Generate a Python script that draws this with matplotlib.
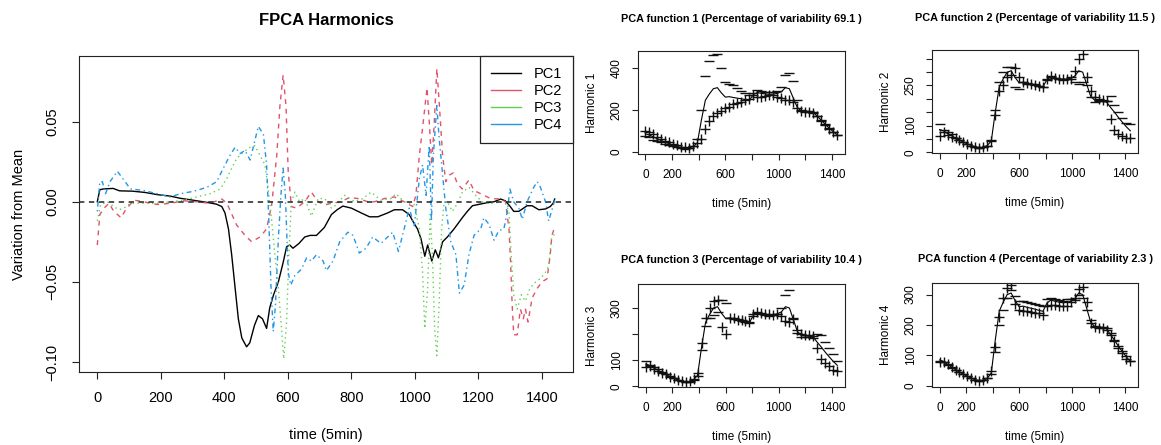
import matplotlib
matplotlib.use('Agg')
import matplotlib.pyplot as plt

plt.rcParams['font.family'] = ['Liberation Sans', 'DejaVu Sans']

# ---------------- left panel: the four harmonics ----------------
pc1_x = [0, 8, 20, 50, 70, 110, 150, 190, 230, 260, 300, 345, 375, 392, 402, 413, 423, 434,
         444, 455, 470, 480, 495, 507, 520, 533, 543, 555, 570, 585, 596, 606, 616, 635, 653,
         670, 690, 715, 737, 755, 773, 800, 831, 857, 883, 914, 935, 961, 982, 993, 1008, 1019,
         1031, 1040, 1053, 1064, 1074, 1087, 1102, 1123, 1149, 1165, 1181, 1217, 1249, 1270,
         1285, 1300, 1311, 1327, 1353, 1369, 1390, 1411, 1426, 1435, 1440]
pc1_y = [0.000, 0.0075, 0.008, 0.0083, 0.0068, 0.0066, 0.0058, 0.0044, 0.0035, 0.0022, 0.001,
         -0.0004, -0.0015, -0.003, -0.007, -0.017, -0.033, -0.054, -0.073, -0.085, -0.0905,
         -0.088, -0.077, -0.071, -0.073, -0.079, -0.066, -0.058, -0.050, -0.038, -0.028, -0.027,
         -0.029, -0.026, -0.022, -0.021, -0.021, -0.016, -0.008, -0.005, -0.0027, -0.004, -0.007,
         -0.0094, -0.0094, -0.007, -0.005, -0.005, -0.008, -0.012, -0.017, -0.023, -0.034, -0.027,
         -0.037, -0.030, -0.035, -0.025, -0.022, -0.017, -0.010, -0.006, -0.0025, -0.001, 0.000,
         0.0017, 0.0005, -0.003, -0.006, -0.006, -0.0025, -0.0025, -0.005, -0.0045, -0.003,
         -0.001, 0.0017]

pc2_x = [0, 8, 21, 37, 52, 75, 89, 115, 146, 188, 230, 272, 313, 355, 392, 408, 439, 465, 486,
         512, 533, 549, 565, 575, 585, 594, 601, 611, 627, 653, 674, 695, 716, 737, 768, 794, 820,
         852, 873, 904, 935, 966, 993, 1003, 1014, 1024, 1038, 1045, 1053, 1061, 1069, 1077, 1087,
         1097, 1108, 1121, 1134, 1149, 1170, 1186, 1207, 1238, 1270, 1285, 1296, 1301, 1306, 1311,
         1322, 1332, 1341, 1348, 1356, 1369, 1385, 1400, 1416, 1426, 1431, 1440]
pc2_y = [-0.027, -0.008, -0.004, -0.001, -0.006, -0.010, -0.005, 0.001, 0.000, -0.0017, -0.001,
         0.0006, 0.000, -0.001, 0.0017, -0.001, -0.0146, -0.021, -0.025, -0.022, -0.017, -0.002,
         0.029, 0.060, 0.079, 0.060, 0.019, -0.003, -0.004, 0.000, 0.006, 0.000, -0.002, -0.001,
         0.000, 0.0027, 0.002, 0.000, 0.000, 0.002, 0.003, 0.000, -0.003, 0.004, 0.029, 0.046,
         0.071, 0.050, 0.023, 0.050, 0.083, 0.060, 0.029, 0.0125, 0.0166, 0.018, 0.011, 0.008,
         0.0135, 0.007, 0.005, 0.002, 0.0017, 0.000, -0.017, -0.037, -0.064, -0.083, -0.083,
         -0.067, -0.073, -0.067, -0.075, -0.060, -0.054, -0.050, -0.048, -0.033, -0.021, -0.016]

pc3_x = [0, 10, 31, 52, 68, 84, 104, 146, 188, 230, 272, 313, 355, 387, 408, 423, 439, 460, 481,
         496, 512, 528, 538, 549, 559, 570, 580, 587, 596, 603, 611, 622, 637, 653, 674, 695, 716,
         737, 752, 778, 810, 836, 862, 893, 925, 940, 966, 987, 998, 1014, 1024, 1031, 1040, 1048,
         1055, 1062, 1069, 1076, 1084, 1092, 1102, 1118, 1134, 1149, 1170, 1191, 1217, 1244, 1270,
         1285, 1296, 1303, 1311, 1322, 1335, 1348, 1362, 1380, 1395, 1411, 1421, 1430, 1440]
pc3_y = [-0.012, -0.002, 0.000, -0.003, -0.005, -0.004, -0.001, -0.001, -0.001, 0.000, 0.001,
         0.003, 0.005, 0.008, 0.0146, 0.021, 0.027, 0.031, 0.034, 0.035, 0.029, 0.023, 0.008,
         -0.012, -0.033, -0.054, -0.079, -0.098, -0.075, -0.033, 0.000, 0.006, 0.000, 0.002,
         -0.009, 0.002, 0.002, -0.004, -0.002, 0.004, 0.000, 0.002, 0.006, 0.001, 0.002, 0.005,
         0.000, -0.001, -0.002, -0.017, -0.044, -0.079, -0.054, -0.008, -0.033, -0.079, -0.096,
         -0.064, -0.017, 0.000, 0.000, -0.006, -0.001, 0.006, 0.009, 0.004, -0.001, -0.001, 0.000,
         -0.001, -0.006, -0.033, -0.058, -0.067, -0.058, -0.062, -0.054, -0.050, -0.048, -0.044,
         -0.040, -0.023, -0.020]

pc4_x = [0, 8, 16, 26, 40, 63, 84, 104, 146, 188, 230, 261, 303, 345, 376, 397, 418, 434, 449,
         465, 481, 507, 523, 533, 540, 547, 554, 561, 570, 578, 585, 592, 601, 609, 622, 643, 659,
         674, 690, 711, 721, 742, 763, 789, 805, 825, 846, 867, 893, 914, 930, 948, 966, 982, 998,
         1014, 1024, 1035, 1045, 1052, 1058, 1069, 1076, 1087, 1097, 1113, 1129, 1140, 1155, 1170,
         1186, 1207, 1217, 1233, 1249, 1264, 1280, 1291, 1299, 1311, 1327, 1338, 1353, 1374, 1385,
         1395, 1411, 1421, 1430, 1440]
pc4_y = [-0.006, 0.0125, 0.0125, 0.005, 0.0125, 0.019, 0.0135, 0.008, 0.007, 0.005, 0.003,
         0.005, 0.0065, 0.009, 0.0125, 0.021, 0.029, 0.034, 0.030, 0.032, 0.026, 0.047, 0.042,
         0.023, -0.012, -0.054, -0.081, -0.064, -0.023, 0.004, 0.021, 0.004, -0.044, -0.052,
         -0.046, -0.042, -0.035, -0.037, -0.033, -0.037, -0.043, -0.037, -0.025, -0.019, -0.021,
         -0.032, -0.029, -0.022, -0.026, -0.022, -0.019, -0.031, -0.017, -0.004, -0.015, 0.0146,
         0.023, 0.004, 0.035, -0.012, 0.029, 0.060, 0.040, 0.017, -0.004, -0.025, -0.033, -0.057,
         -0.052, -0.033, -0.021, -0.017, -0.010, -0.014, -0.024, -0.018, -0.017, -0.006, 0.008,
         0.000, -0.004, -0.011, 0.000, 0.009, 0.0125, 0.009, 0.000, -0.012, -0.006, 0.001]

# ---------------- right panels: mean +/- harmonic ----------------
grid_x = list(range(0, 1441, 30))
mean_curve = [85, 80, 70, 62, 53, 45, 38, 31, 25, 20, 17, 18, 25, 42, 150, 245, 275, 300, 305,
              280, 260, 262, 258, 255, 252, 248, 245, 272, 282, 278, 275, 273, 274, 278, 285,
              305, 300, 255, 210, 195, 193, 192, 188, 168, 150, 130, 112, 95, 80]

plus1 = [97, 92, 82, 72, 62, 53, 45, 37, 30, 24, 20, 19, 25, 40, 60, 110, 148, 168, 182, 195,
         206, 215, 225, 232, 238, 245, 252, 268, 262, 262, 264, 268, 270, 262, 255, 248, 246,
         238, 208, 192, 190, 190, 186, 172, 152, 128, 110, 95, 80]
minus1 = [73, 68, 58, 52, 44, 37, 31, 25, 20, 16, 14, 17, 25, 60, 200, 360, 430, 460, 465, 400,
          330, 322, 318, 305, 290, 278, 270, 280, 292, 290, 286, 286, 284, 290, 310, 365, 375,
          335, 245, 200, 195, 194, 190, 168, 148, 130, 113, 95, 80]

plus2 = [60, 74, 64, 56, 53, 45, 37, 30, 25, 20, 17, 18, 24, 42, 140, 228, 253, 280, 290, 315,
         282, 262, 260, 255, 250, 247, 246, 274, 284, 279, 276, 275, 274, 276, 305, 350, 368,
         280, 228, 207, 198, 194, 190, 125, 82, 68, 62, 52, 55]
minus2 = [105, 84, 76, 68, 55, 45, 39, 32, 25, 20, 17, 18, 25, 45, 160, 262, 300, 320, 320, 245,
          238, 262, 256, 255, 254, 249, 244, 270, 280, 277, 274, 271, 274, 280, 262, 255, 262,
          250, 205, 188, 190, 190, 190, 209, 178, 150, 128, 110, 105]

plus3 = [72, 78, 66, 58, 52, 45, 37, 30, 25, 20, 17, 20, 28, 52, 165, 262, 300, 326, 330, 228,
         200, 262, 260, 253, 254, 250, 246, 276, 284, 280, 276, 276, 273, 278, 270, 250, 245,
         258, 215, 202, 197, 195, 192, 145, 104, 90, 76, 62, 60]
minus3 = [97, 82, 72, 65, 54, 45, 39, 32, 25, 20, 17, 16, 22, 40, 140, 230, 262, 272, 285, 330,
          318, 262, 256, 257, 250, 246, 244, 268, 280, 276, 274, 270, 275, 278, 300, 350, 370,
          260, 205, 188, 190, 189, 186, 200, 195, 170, 145, 125, 98]

plus4 = [78, 78, 70, 62, 53, 45, 38, 31, 25, 20, 17, 18, 25, 48, 128, 225, 290, 322, 330, 270,
         248, 245, 245, 243, 240, 238, 232, 262, 265, 266, 264, 264, 263, 274, 290, 318, 325,
         276, 205, 193, 190, 190, 185, 168, 147, 125, 108, 88, 80]
minus4 = [82, 78, 68, 60, 53, 45, 38, 31, 24, 19, 16, 18, 24, 40, 110, 200, 250, 290, 315, 295,
          278, 278, 276, 273, 270, 267, 262, 284, 288, 284, 282, 280, 285, 284, 282, 300, 290,
          250, 215, 198, 194, 192, 190, 172, 150, 132, 115, 98, 80]

variability = ['69.1', '11.5', '10.4', '2.3']

# colours (R 4 palette)
col_red, col_green, col_blue = '#DF536B', '#61D04F', '#2297E6'

W, H = 1161, 445
fig = plt.figure(figsize=(W / 100, H / 100), dpi=100)


def rbox(ax, lw=0.8):
    for s in ax.spines.values():
        s.set_linewidth(lw)
        s.set_color('#222222')
    ax.tick_params(direction='out', length=4, width=0.8, color='#222222')


# main panel
ax = fig.add_axes([79 / W, 1 - 372 / H, (573 - 79) / W, (372 - 56) / H])
lw = 1.0
ax.plot(pc1_x, pc1_y, color='black', lw=lw, label='PC1')
ax.plot(pc2_x, pc2_y, color=col_red, lw=lw, dashes=(3.5, 3.5), label='PC2')
ax.plot(pc3_x, pc3_y, color=col_green, lw=lw, dashes=(1, 2.5), label='PC3')
ax.plot(pc4_x, pc4_y, color=col_blue, lw=lw, dashes=(1, 2.5, 3.5, 2.5), label='PC4')
ax.axhline(0, color='#222222', lw=1.1, dashes=(3.5, 3))
ax.set_xlim(-57.6, 1497.6)
ax.set_ylim(-0.1062, 0.0909)
ax.set_xticks(range(0, 1401, 200))
ax.set_yticks([-0.10, -0.05, 0.00, 0.05])
ax.set_yticklabels(['\u22120.10', '\u22120.05', '0.00', '0.05'], rotation=90, va='center')
rbox(ax)
ax.tick_params(labelsize=10.5, pad=9, length=5)
ax.set_xlabel('time (5min)', fontsize=10.5, labelpad=16)
ax.set_ylabel('Variation from Mean', fontsize=10.5, labelpad=14)
ax.set_title('FPCA Harmonics', fontsize=12, fontweight='bold', pad=22)
leg = ax.legend(loc='upper right', borderaxespad=0, fancybox=False, framealpha=1,
                edgecolor='#222222', fontsize=10.5, handlelength=2.0, handletextpad=0.9,
                labelspacing=0.2, borderpad=0.75)
leg.get_frame().set_linewidth(0.9)
for h in leg.get_lines():
    h.set_linestyle('-')

# right panels
panels = [
    (637.7, 50.7, 845, 154, plus1, minus1, (-11, 481), [0, 200, 400], ['0', '200', '400']),
    (932, 50, 1138, 153, plus2, minus2, (-3, 383), list(range(0, 351, 50)),
     ['0', '', '100', '', '', '250', '', '']),
    (638, 284, 845, 387, plus3, minus3, (-3, 392), [0, 100, 200, 300], ['0', '100', '', '300']),
    (932, 283, 1138, 387, plus4, minus4, (-4, 338), [0, 100, 200, 300],
     ['0', '100', '200', '300']),
]
for k, (l, t, r, b, pl, mi, yl, yt, ytl) in enumerate(panels):
    a = fig.add_axes([l / W, 1 - b / H, (r - l) / W, (b - t) / H])
    a.plot(grid_x, mean_curve, color='black', lw=0.8)
    a.plot(grid_x, pl, ls='none', marker='+', ms=6.5, mew=1.0, color='#111111')
    a.plot(grid_x, mi, ls='none', marker='_', ms=6.5, mew=1.0, color='#111111')
    a.set_xlim(-57.6, 1497.6)
    a.set_ylim(*yl)
    a.set_xticks(range(0, 1401, 200))
    a.set_xticklabels(['0', '200', '', '600', '', '1000', '', '1400'])
    a.set_yticks(yt)
    a.set_yticklabels(ytl, rotation=90, va='center')
    rbox(a)
    a.tick_params(labelsize=8.5, pad=7, length=4)
    a.set_xlabel('time (5min)', fontsize=8.5, labelpad=12)
    a.set_ylabel('Harmonic %d' % (k + 1), fontsize=8.5, labelpad=9)
    a.set_title('PCA function %d (Percentage of variability %s )' % (k + 1, variability[k]),
                fontsize=7.8, fontweight='bold', pad=21 if k < 2 else 15)

fig.savefig('out.png', dpi=100)
